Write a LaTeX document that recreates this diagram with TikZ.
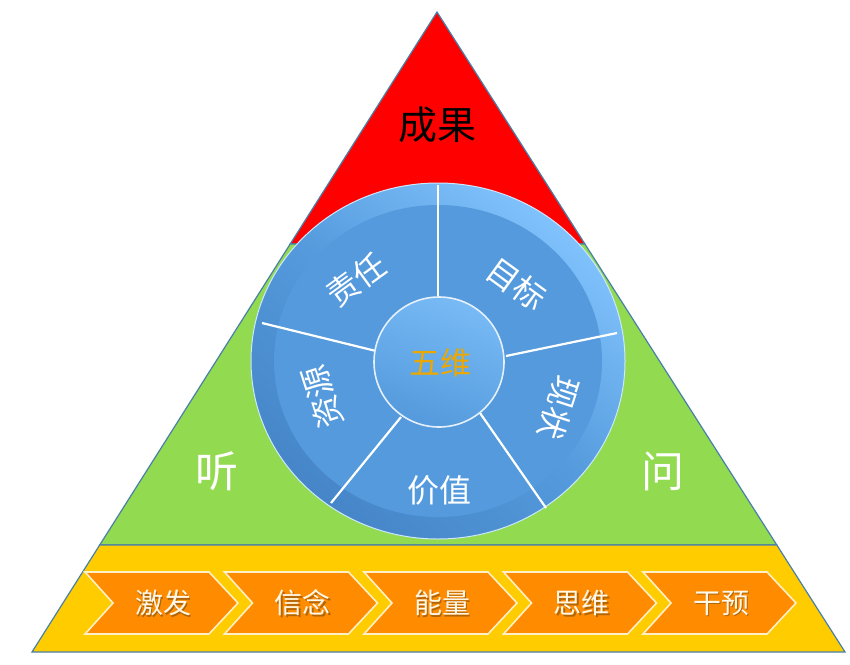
\documentclass[tikz,border=0pt]{standalone}
\usepackage{fontspec}
\newfontfamily\cjk{Noto Sans CJK SC}
\definecolor{redc}{RGB}{255,0,0}
\definecolor{greenc}{RGB}{146,218,80}
\definecolor{yellowc}{RGB}{255,204,0}
\definecolor{edgec}{RGB}{72,128,168}
\definecolor{orangec}{RGB}{255,140,0}
\definecolor{chevedge}{RGB}{255,240,200}
\definecolor{bluemid}{RGB}{84,154,220}
\definecolor{bluelight}{RGB}{128,194,252}
\definecolor{bluedark}{RGB}{70,134,200}
\definecolor{goldc}{RGB}{236,168,0}
\definecolor{cream}{RGB}{255,248,232}
\definecolor{shadowc}{RGB}{110,70,20}
\tikzset{
  layer/.style={draw=edgec, line width=1.2pt},
  chev/.style={fill=orangec, draw=chevedge, line width=1.6pt, line join=miter},
  divider/.style={draw=white, line width=2.2pt},
  wheeltext/.style={font=\cjk\fontsize{32}{33}\selectfont, text=white, inner sep=0pt},
  bigtext/.style={font=\cjk\fontsize{39}{40}\selectfont, inner sep=0pt},
  sidetext/.style={font=\cjk\fontsize{43}{44}\selectfont, inner sep=0pt},
  chevtext/.style={font=\cjk\fontsize{28}{29}\selectfont, text=cream, inner sep=0pt},
  chevshadow/.style={font=\cjk\fontsize{28}{29}\selectfont, text=shadowc, opacity=0.55, inner sep=0pt}
}
\begin{document}
\begin{tikzpicture}[x=1pt, y=-1pt]
\useasboundingbox (0,0) rectangle (850,664);
\fill[white] (0,0) rectangle (850,664);
% pyramid layers
\coordinate (apex) at (437,12);
\coordinate (rl) at (290.2,244);
\coordinate (rr) at (584.9,244);
\coordinate (gl) at (99.7,545);
\coordinate (gr) at (776.8,545);
\coordinate (bl) at (32,652);
\coordinate (br) at (845,652);
\filldraw[layer, fill=redc] (apex) -- (rl) -- (rr) -- cycle;
\filldraw[layer, fill=greenc] (rl) -- (gl) -- (gr) -- (rr) -- cycle;
\filldraw[layer, fill=yellowc] (gl) -- (bl) -- (br) -- (gr) -- cycle;
% wheel
\coordinate (wc) at (438,361);
\shade[top color=bluelight, bottom color=bluedark, middle color=bluemid, shading angle=-40]
  (wc) ellipse [x radius=187, y radius=178];
\fill[bluemid] (wc) ellipse [x radius=164, y radius=156];
\draw[white!60!bluelight, line width=1pt] (wc) ellipse [x radius=187, y radius=178];
% dividers
\coordinate (d1a) at (438,296); \coordinate (d1b) at (438,185);
\coordinate (d2a) at (506,356); \coordinate (d2b) at (617,333);
\coordinate (d3a) at (480,413); \coordinate (d3b) at (546,508);
\coordinate (d4a) at (401,417); \coordinate (d4b) at (331,503);
\coordinate (d5a) at (376,351); \coordinate (d5b) at (262,323);
\draw[divider] (d1a) -- (d1b);
\draw[divider] (d2a) -- (d2b);
\draw[divider] (d3a) -- (d3b);
\draw[divider] (d4a) -- (d4b);
\draw[divider] (d5a) -- (d5b);
% hub
\coordinate (hc) at (439,362);
\shade[top color=bluelight!80!bluemid, bottom color=bluemid, shading angle=-20] (hc) circle [radius=65];
\draw[white!85!bluemid, line width=1.6pt] (hc) circle [radius=65];
\node[wheeltext, text=goldc, font=\cjk\fontsize{31}{32}\selectfont] (wuwei) at (440,363) {五维};
% wheel labels
\node[wheeltext, rotate=36] (zeren) at (356,280) {责任};
\node[wheeltext, rotate=-36] (mubiao) at (517,284) {目标};
\node[wheeltext, rotate=-108] (xianzhuang) at (559,408) {现状};
\node[wheeltext] (jiazhi) at (439,490) {价值};
\node[wheeltext, rotate=108] (ziyuan) at (322,397) {资源};
% big labels
\node[bigtext, text=black] (chengguo) at (437,125) {成果};
\node[sidetext, text=white] (ting) at (217,471) {听};
\node[sidetext, text=white] (wen) at (663,471) {问};
% chevrons
\foreach \x/\t/\n in {85/激发/c1, 224.5/信念/c2, 364/能量/c3, 503.5/思维/c4, 643/干预/c5}{
  \filldraw[chev] (\x,572) -- (\x+124,572) -- (\x+153,603) -- (\x+124,634) -- (\x,634) -- (\x+28,603) -- cycle;
  \node[chevshadow] at (\x+79.5,604.5) {\t};
  \node[chevtext] (\n) at (\x+78,603) {\t};
}
\end{tikzpicture}
\end{document}
